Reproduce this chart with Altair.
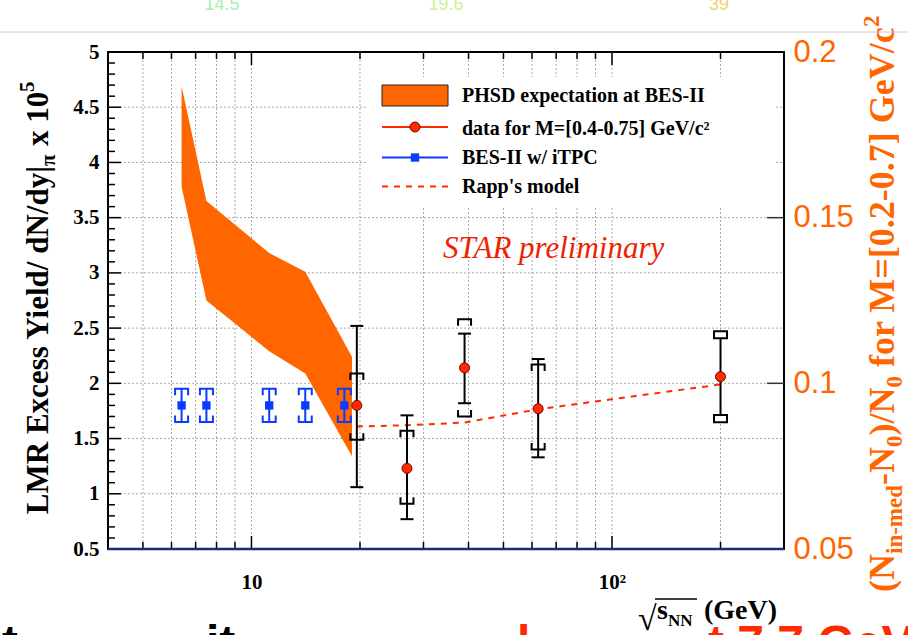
import altair as alt
import numpy as np
import pandas as pd

SERIF = "Liberation Serif"
SANS = "Liberation Sans"
ORANGE = "#ff6600"
RED = "#ff2a00"
BLUE = "#0a3cff"
NAVY = "#1b2a7a"
GRID = "#a8a8a8"

W, H = 676, 497          # plot area
LEFT, TOP = 108, 52      # plot area offset inside the 908x635 canvas

# ---------------------------------------------------------------- data
# STAR LMR dielectron excess yield (x 1e5, normalised by dN/dy of pions)
energy = [19.6, 27.0, 39.0, 62.4, 200.0]
excess = [1.80, 1.23, 2.14, 1.77, 2.06]
stat_lo = [1.06, 0.77, 1.82, 1.33, 1.68]
stat_hi = [2.52, 1.71, 2.45, 2.22, 2.44]
sys_lo = [1.49, 0.91, 1.70, 1.40, 1.68]
sys_hi = [2.09, 1.57, 2.58, 2.17, 2.44]

# BES-II projection with the iTPC upgrade
bes2_energy = [6.4, 7.5, 11.2, 14.1, 18.1]
bes2_excess = [1.80, 1.80, 1.80, 1.80, 1.80]
bes2_lo = [1.65, 1.65, 1.65, 1.65, 1.65]
bes2_hi = [1.95, 1.95, 1.95, 1.95, 1.95]

# PHSD expectation band
phsd_energy = [6.4, 7.5, 11.2, 14.1, 19.0]
phsd_hi = [4.69, 3.65, 3.18, 3.01, 2.24]
phsd_lo = [3.78, 2.75, 2.29, 2.09, 1.34]

# Rapp's model
rapp_energy = [19.6, 27.0, 39.0, 62.4, 200.0]
rapp_excess = [1.61, 1.62, 1.645, 1.765, 1.99]

# axes
y_major = [0.5, 1.0, 1.5, 2.0, 2.5, 3.0, 3.5, 4.0, 4.5, 5.0]
x_grid = [5, 6, 7, 8, 9, 10, 20, 30, 40, 50, 60, 70, 80, 90, 100, 200]
x_major = [10, 100]
right_values = [0.05, 0.1, 0.15, 0.2]
right_inner_ticks = [0.1, 0.15]
top_energies = ["14.5", "19.6", "39"]

# ---------------------------------------------------------------- scales & axes
xs = alt.Scale(type="log", domain=[4, 300], nice=False)
ys = alt.Scale(domain=[0.5, 5], nice=False, zero=False)

x_axis = alt.Axis(
    values=x_grid,
    labelExpr="datum.value == 10 ? '10' : (datum.value == 100 ? '10²' : '')",
    ticks=False, domain=False, grid=False,
    labelFont=SERIF, labelFontWeight="bold", labelFontSize=21, labelColor="black",
    labelPadding=22, labelOverlap=False, title=None,
)
y_axis = alt.Axis(
    values=y_major, format=".1~f",
    ticks=False, domain=False, grid=False,
    labelFont=SERIF, labelFontWeight="bold", labelFontSize=21, labelColor="black",
    labelPadding=9, labelOverlap=False, title=None,
)


def X(f):
    return alt.X(f"{f}:Q", scale=xs, axis=x_axis)


def Y(f):
    return alt.Y(f"{f}:Q", scale=ys, axis=y_axis)


ONE = pd.DataFrame({"k": [0]})


def text(t, x, y, size, color="black", weight="bold", font=SERIF, angle=0,
         align="left", baseline="alphabetic", style="normal"):
    """Text placed in canvas pixel coordinates."""
    return alt.Chart(ONE).mark_text(
        text=t, fontSize=size, color=color, fontWeight=weight, font=font,
        angle=angle, align=align, baseline=baseline, fontStyle=style,
    ).encode(x=alt.value(x - LEFT), y=alt.value(y - TOP))


def hline(x1, x2, y, color="black", width=1.0, dash=None):
    kw = dict(color=color, strokeWidth=width)
    if dash:
        kw["strokeDash"] = dash
    return alt.Chart(ONE).mark_rule(**kw).encode(
        x=alt.value(x1 - LEFT), x2=alt.value(x2 - LEFT), y=alt.value(y - TOP))


# marker shapes (unit box -1..1)
CAP = "M-1,0H1"
TOP_BRACKET = "M-1,1V0H1V1"
BOT_BRACKET = "M-1,-1V0H1V-1"
BOX = "M-1,-0.55H1V0.55H-1Z"

# ---------------------------------------------------------------- axes + dotted grid
axes_layer = alt.Chart(pd.DataFrame({"e": [4, 300], "v": [0.5, 5]})).mark_point(
    opacity=0).encode(x=X("e"), y=Y("v"))

grid_x = alt.Chart(pd.DataFrame({"t": x_grid})).mark_rule(
    color=GRID, strokeWidth=1, strokeDash=[2, 2]).encode(x=X("t"), y=alt.value(0), y2=alt.value(H))
grid_y = alt.Chart(pd.DataFrame({"t": y_major[1:-1]})).mark_rule(
    color=GRID, strokeWidth=1, strokeDash=[2, 2]).encode(y=Y("t"), x=alt.value(0), x2=alt.value(W))

# inward tick marks
y_minor = [v for v in np.round(np.arange(0.6, 5.0, 0.1), 1) if abs(v * 2 - round(v * 2)) > 1e-6]
x_minor = [v for v in x_grid if v not in x_major]
ytick_major = alt.Chart(pd.DataFrame({"t": y_major[1:-1]})).mark_rule(
    color="black", strokeWidth=1.5).encode(y=Y("t"), x=alt.value(0), x2=alt.value(13))
ytick_minor = alt.Chart(pd.DataFrame({"t": y_minor})).mark_rule(
    color="black", strokeWidth=1.5).encode(y=Y("t"), x=alt.value(0), x2=alt.value(7))
xtick_major_b = alt.Chart(pd.DataFrame({"t": x_major})).mark_rule(
    color="black", strokeWidth=1.5).encode(x=X("t"), y=alt.value(H), y2=alt.value(H - 13))
xtick_minor_b = alt.Chart(pd.DataFrame({"t": x_minor})).mark_rule(
    color="black", strokeWidth=1.5).encode(x=X("t"), y=alt.value(H), y2=alt.value(H - 7))
xtick_major_t = alt.Chart(pd.DataFrame({"t": x_major})).mark_rule(
    color="black", strokeWidth=1.5).encode(x=X("t"), y=alt.value(0), y2=alt.value(13))
xtick_minor_t = alt.Chart(pd.DataFrame({"t": x_minor})).mark_rule(
    color="black", strokeWidth=1.5).encode(x=X("t"), y=alt.value(0), y2=alt.value(7))
bottom_frame = alt.Chart(ONE).mark_rule(color=NAVY, strokeWidth=2.5).encode(
    x=alt.value(0), x2=alt.value(W), y=alt.value(H))

# legend background hides the grid behind it
legend_bg = alt.Chart(ONE).mark_rect(color="white").encode(
    x=alt.value(367 - LEFT), x2=alt.value(776 - LEFT),
    y=alt.value(77 - TOP), y2=alt.value(206 - TOP))

# ---------------------------------------------------------------- physics layers
band_df = pd.DataFrame({"e": phsd_energy, "hi": phsd_hi, "lo": phsd_lo})
band = alt.Chart(band_df).mark_area(color=ORANGE, opacity=1).encode(
    x=X("e"), y=Y("hi"), y2=alt.Y2("lo:Q"))

rapp = alt.Chart(pd.DataFrame({"e": rapp_energy, "v": rapp_excess})).mark_line(
    color=RED, strokeWidth=2, strokeDash=[6, 6]).encode(x=X("e"), y=Y("v"))

pts = pd.DataFrame({"e": energy, "v": excess, "slo": stat_lo, "shi": stat_hi,
                    "ylo": sys_lo, "yhi": sys_hi})
pts["box"] = pts["e"] >= 200  # top energy point carries box-style systematics
br_pts = pts[~pts["box"]]
bx_pts = pts[pts["box"]]

stat_bar = alt.Chart(pts).mark_rule(color="black", strokeWidth=2).encode(
    x=X("e"), y=Y("slo"), y2=alt.Y2("shi:Q"))


def marker(df, field, shape, color, size=169, fill=None, width=2):
    kw = dict(shape=shape, size=size, opacity=1, strokeWidth=width)
    if fill is None:
        kw.update(filled=False, color=color)
    else:
        kw.update(filled=True, fill=fill, stroke=color)
    return alt.Chart(df).mark_point(**kw).encode(x=X("e"), y=Y(field))


cap_lo = marker(br_pts, "slo", CAP, "black")
cap_hi = marker(br_pts, "shi", CAP, "black")
sys_top = marker(br_pts, "yhi", TOP_BRACKET, "black")
sys_bot = marker(br_pts, "ylo", BOT_BRACKET, "black")
box_top = marker(bx_pts, "yhi", BOX, "black", fill="white")
box_bot = marker(bx_pts, "ylo", BOX, "black", fill="white")
dots = alt.Chart(pts).mark_point(shape="circle", filled=True, fill=RED, stroke="#7a0000",
                                 strokeWidth=1, size=100, opacity=1).encode(x=X("e"), y=Y("v"))

bes = pd.DataFrame({"e": bes2_energy, "v": bes2_excess, "lo": bes2_lo, "hi": bes2_hi})
bes_bar = alt.Chart(bes).mark_rule(color=BLUE, strokeWidth=2).encode(
    x=X("e"), y=Y("lo"), y2=alt.Y2("hi:Q"))
bes_top = marker(bes, "hi", TOP_BRACKET, BLUE)
bes_bot = marker(bes, "lo", BOT_BRACKET, BLUE)
bes_sq = alt.Chart(bes).mark_point(shape="square", filled=True, color=BLUE, size=70,
                                   opacity=1).encode(x=X("e"), y=Y("v"))

# ---------------------------------------------------------------- legend
LX0, LX1, LXM, LTX = 382, 448, 415, 462
legend = [
    alt.Chart(ONE).mark_rect(color=ORANGE, stroke="#222222", strokeWidth=1).encode(
        x=alt.value(LX0 - LEFT), x2=alt.value(LX1 - LEFT),
        y=alt.value(85 - TOP), y2=alt.value(106 - TOP)),
    text("PHSD expectation at BES-II", LTX, 96, 20, baseline="middle"),
    hline(LX0, LX1, 127, color=RED, width=2),
    alt.Chart(ONE).mark_point(shape="circle", filled=True, fill=RED, stroke="#7a0000",
                              strokeWidth=1, size=100, opacity=1).encode(
        x=alt.value(LXM - LEFT), y=alt.value(127 - TOP)),
    text("data for M=[0.4-0.75] GeV/c²", LTX, 129, 20, baseline="middle"),
    hline(LX0, LX1, 157.5, color=BLUE, width=2),
    alt.Chart(ONE).mark_point(shape="square", filled=True, color=BLUE, size=70,
                              opacity=1).encode(x=alt.value(LXM - LEFT), y=alt.value(157.5 - TOP)),
    text("BES-II w/ iTPC", LTX, 158, 20, baseline="middle"),
    hline(LX0, LX1, 186.5, color=RED, width=2, dash=[6, 6]),
    text("Rapp's model", LTX, 187, 20, baseline="middle"),
]

# ---------------------------------------------------------------- titles & annotations
RB = 894   # baseline of the rotated right-hand title
annotations = [
    text("STAR preliminary", 443, 258, 31, color="#ee2200", weight="normal", style="italic"),
    # left axis title
    text("LMR Excess Yield/ dN/dy|", 48, 166, 31, angle=270, align="right"),
    text("π", 55, 166, 21, angle=270),
    text("x 10", 48, 146, 31, angle=270),
    text("5", 34, 92, 21, angle=270),
    # right axis title
    text("(N", RB, 592, 36, color=ORANGE, angle=270),
    text("in-med", RB + 8, 554, 23, color=ORANGE, angle=270),
    text("-N", RB, 485, 36, color=ORANGE, angle=270),
    text("0", RB + 8, 447, 23, color=ORANGE, angle=270),
    text(")/N", RB, 435.5, 36, color=ORANGE, angle=270),
    text("0", RB + 8, 387.5, 23, color=ORANGE, angle=270),
    text("for M=[0.2-0.7] GeV/c", RB, 367, 36, color=ORANGE, angle=270),
    text("2", RB - 15, 27, 23, color=ORANGE, angle=270),
    # x axis title
    text("√", 638, 630, 34),
    hline(655, 697, 599, width=1.5),
    text("s", 657, 619, 28),
    text("NN", 668, 626, 17),
    text("(GeV)", 704, 619, 28),
    # slide text around the figure
    hline(0, 908, 32, color="#cccccc", width=1),
    text(top_energies[0], 222, 10, 18, color="#a6eeae", weight="normal", font=SANS, align="center"),
    text(top_energies[1], 446, 10, 18, color="#cdf294", weight="normal", font=SANS, align="center"),
    text(top_energies[2], 719, 10, 18, color="#f3d36b", weight="normal", font=SANS, align="center"),
    text("t", 2, 659, 48, font=SANS),
    text("it", 206, 659, 48, font=SANS),
    text("l", 517, 659, 48, color=RED, font=SANS),
    text("t 7.7 GeV", 708, 659, 48, color=RED, font=SANS),
]

inner = alt.layer(
    axes_layer, grid_x, grid_y, legend_bg,
    band, rapp,
    stat_bar, sys_top, sys_bot, cap_lo, cap_hi, box_top, box_bot, dots,
    bes_bar, bes_top, bes_bot, bes_sq,
    ytick_major, ytick_minor, xtick_major_b, xtick_minor_b, xtick_major_t, xtick_minor_t,
    bottom_frame,
    *legend, *annotations,
)

# right-hand axis: (N_in-med - N_0)/N_0
right_axis = alt.Axis(
    orient="right", values=right_values, format=".2~f", ticks=False, domain=False,
    grid=False, labelFont=SANS, labelFontSize=31, labelColor=ORANGE,
    labelPadding=9, labelOverlap=False, title=None,
)
right = alt.Chart(pd.DataFrame({"r": right_inner_ticks})).mark_rule(
    color="#333333", strokeWidth=1.5).encode(
    y=alt.Y("r:Q", scale=alt.Scale(domain=[0.05, 0.2], nice=False, zero=False), axis=right_axis),
    x=alt.value(W - 17), x2=alt.value(W))

chart = alt.layer(inner, right).resolve_scale(y="independent").properties(
    width=W, height=H,
    autosize=alt.AutoSizeParams(type="none"),
    padding={"left": LEFT, "top": TOP, "right": 908 - LEFT - W, "bottom": 635 - TOP - H},
    background="white",
).configure_view(stroke="black", strokeWidth=2)

chart.save("out.html", embed_options={"renderer": "svg", "actions": False})
